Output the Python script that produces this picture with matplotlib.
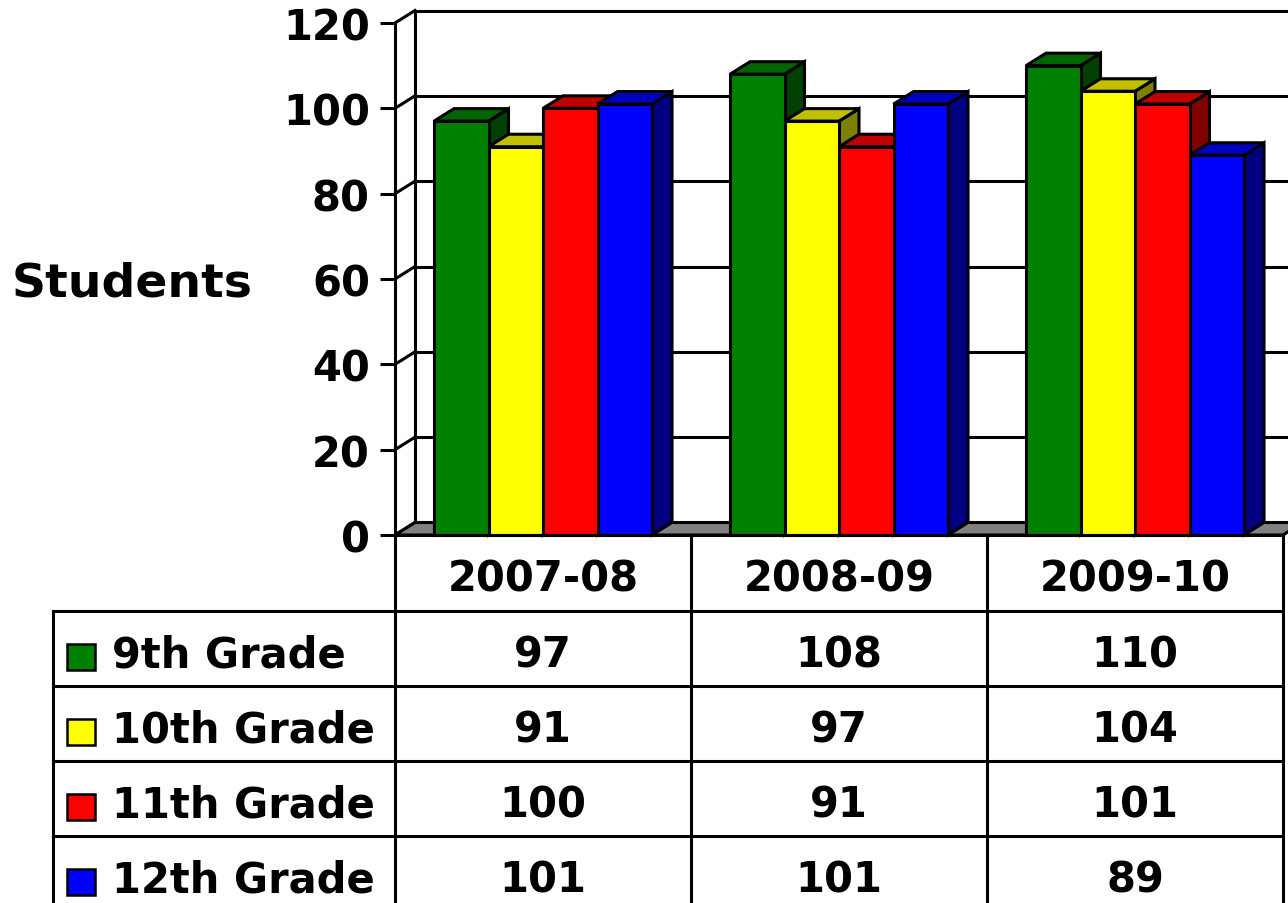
import matplotlib
matplotlib.use("Agg")
import matplotlib.pyplot as plt
from matplotlib.patches import Polygon, Rectangle

years = ["2007-08", "2008-09", "2009-10"]
grades = ["9th Grade", "10th Grade", "11th Grade", "12th Grade"]
grade_9 = [97, 108, 110]
grade_10 = [91, 97, 104]
grade_11 = [100, 91, 101]
grade_12 = [101, 101, 89]
y_ticks = [0, 20, 40, 60, 80, 100, 120]

series = [grade_9, grade_10, grade_11, grade_12]
front_colors = ["#008000", "#ffff00", "#ff0000", "#0000ff"]
top_colors = ["#006400", "#c0c000", "#c00000", "#0000c0"]
side_colors = ["#004000", "#808000", "#800000", "#000080"]

plt.rcParams["font.family"] = ["DejaVu Sans"]
plt.rcParams["font.weight"] = "bold"

W, H = 1288, 904
fig = plt.figure(figsize=(W / 100, H / 100), dpi=100)

# chart area: front plane of the 3d box
ax = fig.add_axes([395 / W, 1 - 536 / H, 888 / W, 512 / H])
ax.set_xlim(-0.5, 2.5)
ax.set_ylim(0, 120)
ax.set_facecolor("none")
for s in ["top", "right", "bottom"]:
    ax.spines[s].set_visible(False)
ax.spines["left"].set_linewidth(2.2)
ax.set_xticks([])
ax.set_yticks(y_ticks)
ax.tick_params(axis="y", length=11, width=2.2, pad=7, labelsize=30)
ax.set_ylabel("Students", rotation=0, fontsize=34, fontweight="bold",
              ha="center", va="center")
ax.yaxis.set_label_coords(-0.296, 0.493)

# depth of the 3d effect, in data units
dx = 20 / 296
dy = 12.5 * 120 / 512
lw = 2.2

# back wall + connectors
for t in y_ticks:
    ax.plot([-0.5 + dx, 2.5 + dx], [t + dy, t + dy], color="black", lw=lw,
            clip_on=False, zorder=1, solid_capstyle="butt")
    ax.plot([-0.5, -0.5 + dx], [t, t + dy], color="black", lw=lw,
            clip_on=False, zorder=1)
ax.plot([-0.5 + dx, -0.5 + dx], [dy, 120 + dy], color="black", lw=lw,
        clip_on=False, zorder=1)

# floor
floor = Polygon([(-0.5, 0), (2.5, 0), (2.5 + dx, dy), (-0.5 + dx, dy)],
                closed=True, facecolor="#808080", edgecolor="black", lw=lw,
                clip_on=False, zorder=2)
ax.add_patch(floor)

# bars
bw = 54.5 / 296
for i in range(len(years)):
    for j, vals in enumerate(series):
        h = vals[i]
        x0 = i - 2 * bw + j * bw
        x1 = x0 + bw
        side = Polygon([(x1, 0), (x1 + dx, dy), (x1 + dx, h + dy), (x1, h)],
                       closed=True, facecolor=side_colors[j], edgecolor="black",
                       lw=lw, clip_on=False, zorder=3, joinstyle="miter")
        top = Polygon([(x0, h), (x1, h), (x1 + dx, h + dy), (x0 + dx, h + dy)],
                      closed=True, facecolor=top_colors[j], edgecolor="black",
                      lw=lw, clip_on=False, zorder=3, joinstyle="miter")
        front = Rectangle((x0, 0), bw, h, facecolor=front_colors[j],
                          edgecolor="black", lw=lw, clip_on=False, zorder=3,
                          joinstyle="miter")
        ax.add_patch(side)
        ax.add_patch(top)
        ax.add_patch(front)

# data table (pixel layout overlay)
tab = fig.add_axes([0, 0, 1, 1])
tab.set_xlim(0, W)
tab.set_ylim(H, 0)
tab.axis("off")
tab.set_facecolor("none")

col_w = 296
col_x = [395 + k * col_w for k in range(len(years) + 1)]
head_top, head_bot = 536, 612
row_h = 75
row_y = [head_bot + k * row_h for k in range(len(grades) + 1)]
label_left = 53
tlw = 2.2

for y in row_y[:-1]:
    tab.plot([label_left, col_x[-1]], [y, y], color="black", lw=tlw)
tab.plot([col_x[0], col_x[-1]], [head_top, head_top], color="black", lw=tlw)
tab.plot([label_left, label_left], [head_bot, row_y[-1]], color="black", lw=tlw)
for x in col_x:
    tab.plot([x, x], [head_top, row_y[-1]], color="black", lw=tlw)

for i, yr in enumerate(years):
    tab.text((col_x[i] + col_x[i + 1]) / 2, (head_top + head_bot) / 2 + 6, yr,
             ha="center", va="center", fontsize=30, fontweight="bold")

for j, g in enumerate(grades):
    yc = (row_y[j] + row_y[j + 1]) / 2
    tab.add_patch(Rectangle((67, yc - 5), 28, 26, facecolor=front_colors[j],
                            edgecolor="black", lw=1.8))
    tab.text(112, yc + 6, g, ha="left", va="center", fontsize=30,
             fontweight="bold")
    for i in range(len(years)):
        tab.text((col_x[i] + col_x[i + 1]) / 2, yc + 6, str(series[j][i]),
                 ha="center", va="center", fontsize=30, fontweight="bold")

fig.savefig("out.png", dpi=100)
